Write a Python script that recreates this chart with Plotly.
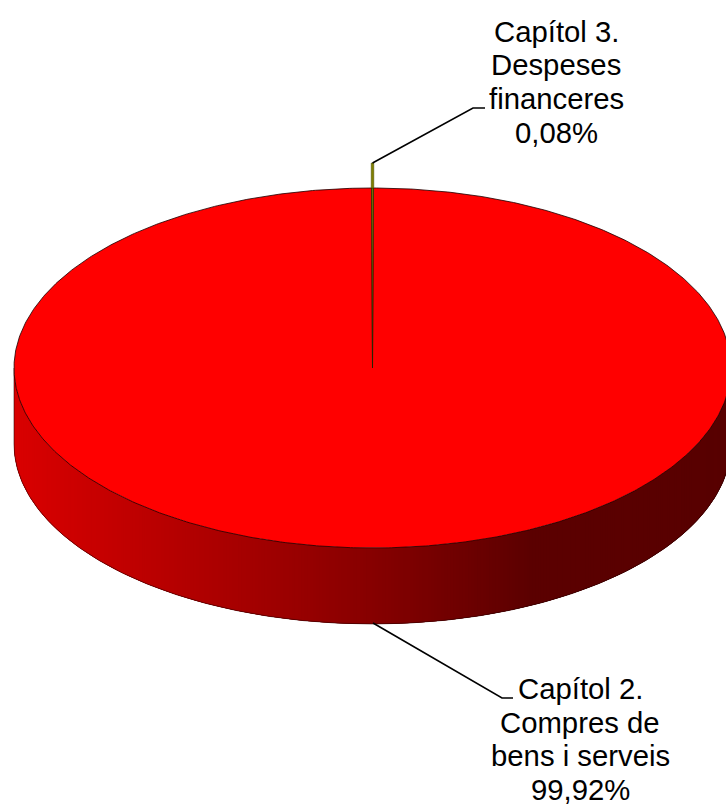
import numpy as np
import plotly.graph_objects as go

labels = [["Capítol 2.", "Compres de", "bens i serveis", "99,92%"],
          ["Capítol 3.", "Despeses", "financeres", "0,08%"]]
values = [99.92, 0.08]
top_colors = ["#ff0000", "#808000"]

W, H = 726, 804
CX, CY, RX, RY = 372.5, 368.0, 358.5, 180.0
DEPTH = 76.0
LIFT = 25.0
FONT = "Liberation Sans, Arial, sans-serif"
FONT_SIZE = 29.3
LINE_GAP = 33.7

# wall shading: horizontal position -> red channel
SHADE_X = [14, 60, 200, 372, 530, 731]
SHADE_R = [218, 208, 176, 135, 92, 88]


def rim(deg):
    """deg is clockwise from twelve o'clock."""
    t = np.radians(deg)
    return CX + RX * np.sin(t), CY - RY * np.cos(t)


fig = go.Figure()

# pie angles from the values
share = values[1] / sum(values) * 360.0
a0, a1 = -share / 2, share / 2

# side wall (front half of the disc): overlapping strips shaded by x, painted left to right
edges = np.linspace(270, 90, 361)
for i in range(len(edges) - 1):
    span = np.linspace(edges[i], edges[min(i + 4, len(edges) - 1)], 6)
    xs, ys = rim(span)
    r = int(np.interp((xs[0] + rim(edges[i + 1])[0]) / 2, SHADE_X, SHADE_R))
    c = f"rgb({r},0,0)"
    fig.add_trace(go.Scatter(
        x=np.r_[xs, xs[::-1], xs[0]], y=np.r_[ys, ys[::-1] + DEPTH, ys[0]],
        mode="lines", fill="toself", fillcolor=c, line=dict(width=0),
        hoverinfo="skip", showlegend=False))

# wall outline
d = np.linspace(90, 270, 361)
xo, yo = rim(d)
fig.add_trace(go.Scatter(
    x=np.r_[xo[0], xo, xo[-1]], y=np.r_[yo[0], yo + DEPTH, yo[-1]],
    mode="lines", line=dict(color="rgba(40,0,0,0.75)", width=0.75),
    hoverinfo="skip", showlegend=False))

# big slice top surface
d = np.linspace(a1, 360 + a0, 721)
xt, yt = rim(d)
fig.add_trace(go.Scatter(
    x=np.r_[CX, xt, CX], y=np.r_[CY, yt, CY],
    mode="lines", fill="toself", fillcolor=top_colors[0],
    line=dict(color="rgba(30,0,0,0.9)", width=0.9),
    hoverinfo="skip", showlegend=False))

# small slice: wedge on the surface and the raised strip behind the rim
x0, y0 = rim(a0)
x1, y1 = rim(a1)
fig.add_trace(go.Scatter(
    x=[CX, x0, x1, CX], y=[CY, y0, y1, CY],
    mode="lines", fill="toself", fillcolor=top_colors[1],
    line=dict(color="rgba(40,40,0,0.9)", width=0.75),
    hoverinfo="skip", showlegend=False))
fig.add_trace(go.Scatter(
    x=[x0 - 0.4, x1 + 0.4, x1 + 0.4, x0 - 0.4, x0 - 0.4], y=[y0, y1, y1 - LIFT, y0 - LIFT, y0],
    mode="lines", fill="toself", fillcolor=top_colors[1],
    line=dict(color="rgba(70,70,0,0.8)", width=0.6),
    hoverinfo="skip", showlegend=False))

# leader lines
leader_x = [[373, 502, 513], [372.5, 473, 485]]
leader_y = [[623, 698, 698], [163, 108, 108]]
for lx, ly in zip(leader_x, leader_y):
    fig.add_trace(go.Scatter(x=lx, y=ly, mode="lines", line=dict(color="black", width=1.6),
                             hoverinfo="skip", showlegend=False))

label_x = [580, 556]
label_y = [688.5, 31]
for lines, lx, ly in zip(labels, label_x, label_y):
    for k, t in enumerate(lines):
        fig.add_annotation(x=lx, y=ly + k * LINE_GAP, xref="x", yref="y", text=t, showarrow=False,
                           align="center", xanchor="center", yanchor="middle",
                           font=dict(family=FONT, size=FONT_SIZE, color="black"))

fig.update_layout(
    width=W, height=H, margin=dict(l=0, r=0, t=0, b=0),
    paper_bgcolor="white", plot_bgcolor="white", showlegend=False,
    xaxis=dict(range=[0, W], visible=False, fixedrange=True),
    yaxis=dict(range=[H, 0], visible=False, fixedrange=True),
)
fig.write_html("out.html", config={"displayModeBar": False},
               post_script="document.body.style.margin='0';document.body.style.overflow='hidden';")
